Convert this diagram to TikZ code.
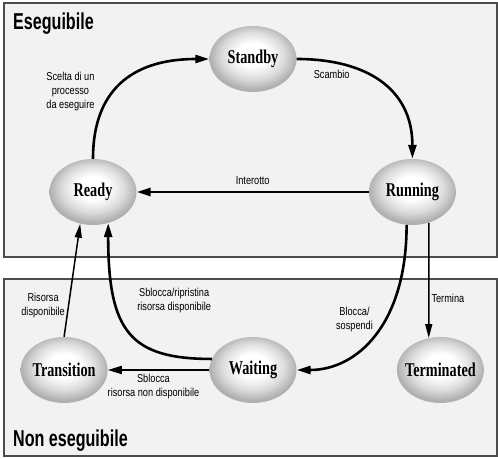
\documentclass[tikz,border=0pt]{standalone}
\usepackage{fontspec}
\setmainfont{Liberation Serif}
\setsansfont{Liberation Sans}
\newfontfamily\statofont[FakeStretch=0.73]{Liberation Serif}
\newfontfamily\etichfont[FakeStretch=0.8]{Liberation Sans}
\newfontfamily\titolofont[FakeStretch=0.7]{Liberation Sans}
\usetikzlibrary{arrows.meta,positioning,shapes.geometric}

\pgfdeclareradialshading{sfera}{\pgfpoint{0bp}{4bp}}{%
  color(0bp)=(white); color(9bp)=(white); color(18bp)=(gray!28);
  color(25bp)=(gray!62); color(50bp)=(gray!62)}

\newcommand{\nomestato}[1]{\makebox[0pt]{#1}}

\begin{document}
\begin{tikzpicture}[
    x=1pt, y=1pt,
    stato/.style={
      ellipse, shading=sfera,
      minimum width=87pt, minimum height=66pt, inner sep=0pt,
      font=\statofont\bfseries\fontsize{19.5}{20}\selectfont
    },
    zona/.style={draw=black!70, line width=1.4pt, fill=gray!10},
    freccia/.style={line width=2.6pt, -{Triangle[length=14pt,width=8pt]}},
    sottile/.style={line width=1.5pt, -{Triangle[length=14pt,width=7pt]}},
    etich/.style={
      font=\etichfont\fontsize{11.5}{14}\selectfont,
      align=center, inner sep=1pt
    },
    titolo/.style={
      font=\titolofont\bfseries\fontsize{23}{24}\selectfont,
      inner sep=0pt, anchor=base west
    }
  ]
    \useasboundingbox (0,0) rectangle (498,458);
    \draw[zona] (4,455) rectangle (497,201);
    \draw[zona] (4,179) rectangle (497,2);

    \node[titolo] (eseguibile) at (13,428) {Eseguibile};
    \node[titolo] (noneseguibile) at (13,12) {Non eseguibile};

    \node[stato] (ready) at (93,266) {\nomestato{Ready}};
    \node[stato, right=232pt of ready] (running) {\nomestato{Running}};
    \node[stato] (standby) at (253,399) {\nomestato{Standby}};
    \node[stato] (waiting) at (253,88) {\nomestato{Waiting}};
    \node[stato, left=101.5pt of waiting] (transition) {\nomestato{Transition}};
    \node[stato, right=100pt of waiting] (terminated) {\nomestato{Terminated}};

    \draw[freccia] (ready.north) .. controls +(0,75) and +(-70,0) .. (standby.west)
      node[etich, pos=0.4, left=17pt] {Scelta di un\\processo\\da eseguire};
    \draw[freccia] (standby.east) .. controls +(70,0) and +(0,70) .. (running.north)
      node[etich, pos=0.3, below left=1pt] {Scambio};
    \draw[freccia] (running.west) -- (ready.east)
      node[etich, midway, above=5pt] {Interotto};
    \draw[freccia] (running.-100) .. controls +(0,-100) and +(60,0) .. (waiting.east)
      node[etich, pos=0.4, left=10pt] {Blocca/\\sospendi};
    \draw[sottile] (running.-62.5) -- (terminated.110.7)
      node[etich, pos=0.66, right=1pt] {Termina};
    \draw[freccia] (waiting.165) .. controls +(-82,0) and +(0,-108) .. (ready.-64)
      node[etich, pos=0.7, right=20pt] {Sblocca/ripristina\\risorsa disponibile};
    \draw[freccia, line width=2pt] (waiting.west) -- (transition.east)
      node[etich, pos=0.55, below=2pt] {Sblocca\\risorsa non disponibile};
    \draw[sottile] (transition.north) -- (ready.-112)
      node[etich, pos=0.28, left=2pt] {Risorsa\\disponibile};
  \end{tikzpicture}
\end{document}
